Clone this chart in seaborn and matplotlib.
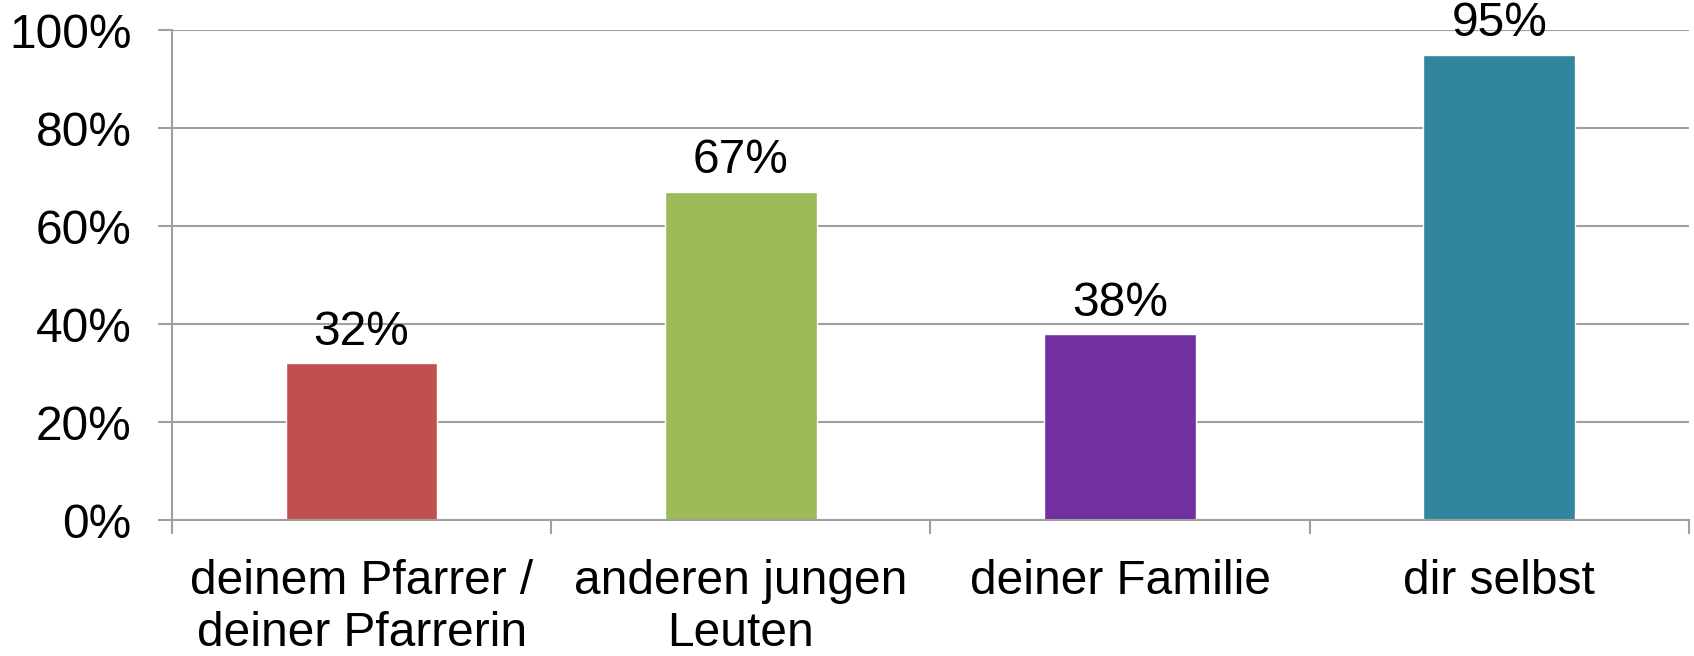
import pandas as pd
import seaborn as sns
import matplotlib.pyplot as plt
from matplotlib.ticker import FixedLocator

categories = ["deinem Pfarrer /\ndeiner Pfarrerin", "anderen jungen\nLeuten", "deiner Familie", "dir selbst"]
values = [32, 67, 38, 95]
colors = ["#C0504D", "#9BBB59", "#7030A0", "#31859C"]
yticks = [0, 20, 40, 60, 80, 100]

df = pd.DataFrame({"cat": categories, "val": values})

sns.set_style("white")
plt.rcParams["font.family"] = ["Liberation Sans", "DejaVu Sans"]
plt.rcParams["text.color"] = "black"
plt.rcParams["xtick.labelcolor"] = "black"
plt.rcParams["ytick.labelcolor"] = "black"

fig = plt.figure(figsize=(16.94, 6.56), dpi=100)
ax = fig.add_axes([0.1015, 0.2073, 0.8955, 0.7467])

sns.barplot(data=df, x="cat", y="val", hue="cat", palette=colors, legend=False,
            width=0.4, saturation=1, ax=ax)

grid = "#A0A0A0"
fs = 34.5
ax.set_ylim(0, 100)
ax.set_xlim(-0.5, len(categories) - 0.5)
ax.set_yticks(yticks)
ax.set_yticklabels([f"{t}%" for t in yticks])
ax.yaxis.grid(True, color=grid, linewidth=1.5)
ax.set_axisbelow(True)
ax.set_xlabel("")
ax.set_ylabel("")

for s in ["top", "right"]:
    ax.spines[s].set_visible(False)
for s in ["left", "bottom"]:
    ax.spines[s].set_color(grid)
    ax.spines[s].set_linewidth(1.5)

ax.tick_params(axis="y", length=10, width=1.5, color=grid, pad=19, labelsize=fs, left=True)
ax.tick_params(axis="x", which="major", length=0, pad=28, labelsize=fs)
for lbl in ax.get_xticklabels():
    lbl.set_linespacing(1.2)
ax.xaxis.set_minor_locator(FixedLocator([i - 0.5 for i in range(len(categories) + 1)]))
ax.tick_params(axis="x", which="minor", length=10, width=1.5, color=grid, bottom=True)

for i, v in enumerate(values):
    ax.annotate(f"{v}%", (i, v), xytext=(0, 6), textcoords="offset points",
                ha="center", va="bottom", fontsize=fs, color="black")

fig.savefig("out.png", dpi=100)
